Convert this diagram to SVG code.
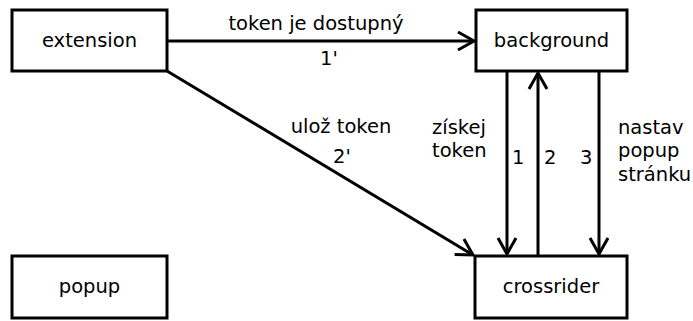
<svg xmlns="http://www.w3.org/2000/svg" width="693" height="321" viewBox="0 0 693 321">
<style>
.box{fill:#fff;stroke:#000;stroke-width:3}
.lbl{font-family:"DejaVu Sans",sans-serif;font-size:19.5px;fill:#000}
.mid{text-anchor:middle}
.conn{stroke:#000;stroke-width:3;fill:none;marker-end:url(#arr)}
</style>
<defs>
<marker id="arr" markerUnits="userSpaceOnUse" viewBox="-20 -12 24 24" refX="0" refY="0" markerWidth="24" markerHeight="24" orient="auto">
<path d="M-16,-9 L0,0 L-16,9" fill="none" stroke="#000" stroke-width="3"/>
</marker>
</defs>
<g id="connectors">
<line class="conn" x1="167" y1="41" x2="474" y2="41"/>
<line class="conn" x1="167" y1="71" x2="473" y2="255"/>
<line class="conn" x1="507" y1="71" x2="507" y2="254"/>
<line class="conn" x1="538" y1="256" x2="538" y2="73"/>
<line class="conn" x1="599" y1="71" x2="599" y2="254"/>
<text class="lbl mid" x="316" y="30">token je dostupný</text>
<text class="lbl mid" x="329" y="65">1'</text>
<text class="lbl mid" x="341" y="133">ulož token</text>
<text class="lbl mid" x="342" y="163">2'</text>
<text class="lbl" x="432" y="134">získej</text>
<text class="lbl" x="432" y="157">token</text>
<text class="lbl" x="512" y="164">1</text>
<text class="lbl" x="544" y="164">2</text>
<text class="lbl" x="580" y="164">3</text>
<text class="lbl" x="618" y="134">nastav</text>
<text class="lbl" x="618" y="157">popup</text>
<text class="lbl" x="618" y="181">stránku</text>
</g>
<g id="extension"><rect class="box" x="12" y="10" width="155" height="61"/><text class="lbl mid" x="89.5" y="47">extension</text></g>
<g id="background"><rect class="box" x="476" y="10" width="151" height="61"/><text class="lbl mid" x="551.5" y="47">background</text></g>
<g id="popup"><rect class="box" x="12" y="256" width="155" height="62"/><text class="lbl mid" x="89.5" y="293">popup</text></g>
<g id="crossrider"><rect class="box" x="475" y="256" width="152" height="62"/><text class="lbl mid" x="551" y="293">crossrider</text></g>
</svg>
